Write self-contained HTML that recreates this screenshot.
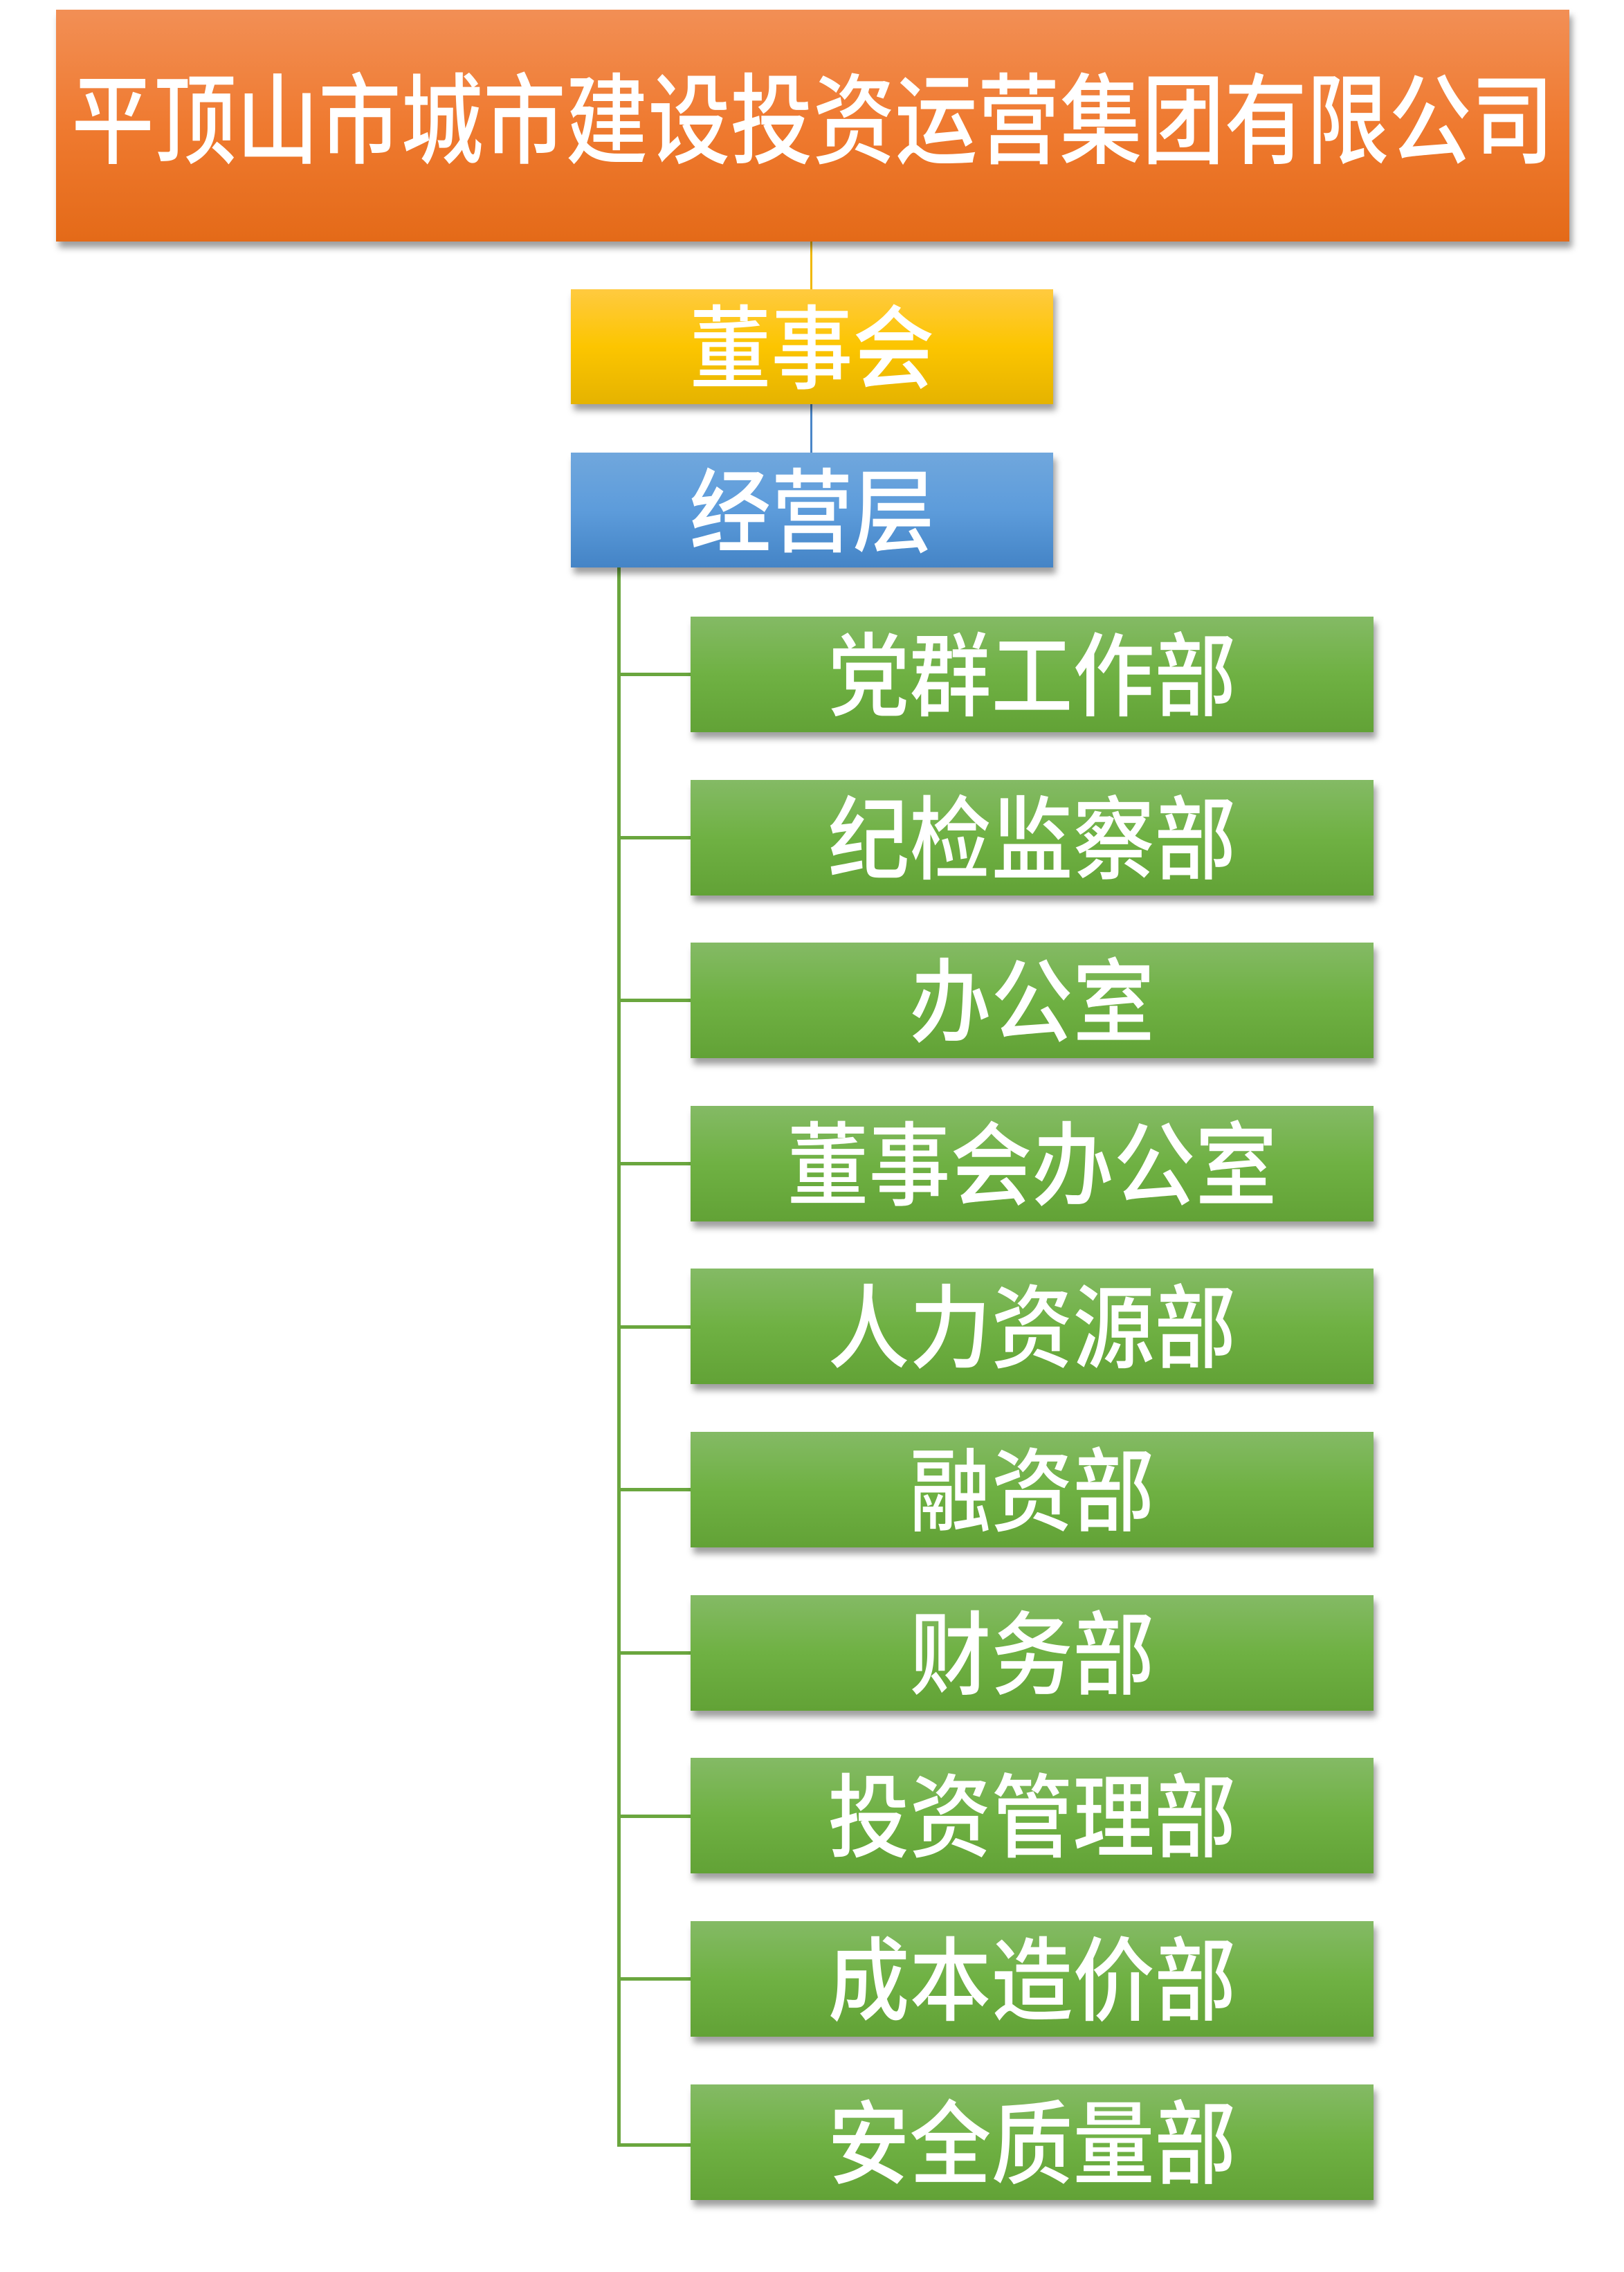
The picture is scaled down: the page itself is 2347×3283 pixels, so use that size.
<!DOCTYPE html>
<html><head><meta charset="utf-8"><style>
html,body{margin:0;padding:0;background:#fff;}
body{width:2347px;height:3283px;position:relative;overflow:hidden;font-family:"Liberation Sans","Noto Sans CJK SC",sans-serif;}
.b{position:absolute;display:flex;align-items:center;justify-content:center;color:#fff;box-shadow:4px 9px 9px rgba(0,0,0,.38);font-weight:500;white-space:nowrap;}
.b span{display:inline-block;transform:translateY(-8px) scaleY(1.12);}
.top{left:81px;top:14px;width:2187px;height:335px;background:linear-gradient(#f28f55,#ef7a30 50%,#e46a18);font-size:119px;}
.top span{transform:translateY(-18px) scaleY(1.2);}
.y{left:825px;top:418px;width:697px;height:166px;background:linear-gradient(#ffca40,#fcc500 50%,#e5b300);font-size:118px;}
.bl{left:825px;top:654px;width:697px;height:166px;background:linear-gradient(#70a7dd,#5d9cdb 50%,#4484c6);font-size:118px;}
.g{left:998px;width:987px;height:167px;background:linear-gradient(#84ba65,#6fb143 50%,#62a236);font-size:118px;}
.l{position:absolute;}
</style></head><body>
<div class="l" style="left:1171px;top:349px;width:3px;height:69px;background:#f0b800"></div>
<div class="l" style="left:1171px;top:584px;width:3px;height:70px;background:#4a86c8"></div>
<div class="l" style="left:892px;top:820px;width:5px;height:2282px;background:#6aa63e"></div>
<div class="b top"><span>平顶山市城市建设投资运营集团有限公司</span></div>
<div class="b y"><span>董事会</span></div>
<div class="b bl"><span>经营层</span></div>

<div class="l" style="left:892px;top:972px;width:106px;height:5px;background:#6aa63e"></div>
<div class="l" style="left:892px;top:1208px;width:106px;height:5px;background:#6aa63e"></div>
<div class="l" style="left:892px;top:1443px;width:106px;height:5px;background:#6aa63e"></div>
<div class="l" style="left:892px;top:1679px;width:106px;height:5px;background:#6aa63e"></div>
<div class="l" style="left:892px;top:1915px;width:106px;height:5px;background:#6aa63e"></div>
<div class="l" style="left:892px;top:2150px;width:106px;height:5px;background:#6aa63e"></div>
<div class="l" style="left:892px;top:2386px;width:106px;height:5px;background:#6aa63e"></div>
<div class="l" style="left:892px;top:2622px;width:106px;height:5px;background:#6aa63e"></div>
<div class="l" style="left:892px;top:2857px;width:106px;height:5px;background:#6aa63e"></div>
<div class="l" style="left:892px;top:3097px;width:106px;height:5px;background:#6aa63e"></div>

<div class="b g" style="top:891px"><span>党群工作部</span></div>
<div class="b g" style="top:1127px"><span>纪检监察部</span></div>
<div class="b g" style="top:1362px"><span>办公室</span></div>
<div class="b g" style="top:1598px"><span>董事会办公室</span></div>
<div class="b g" style="top:1833px"><span>人力资源部</span></div>
<div class="b g" style="top:2069px"><span>融资部</span></div>
<div class="b g" style="top:2305px"><span>财务部</span></div>
<div class="b g" style="top:2540px"><span>投资管理部</span></div>
<div class="b g" style="top:2776px"><span>成本造价部</span></div>
<div class="b g" style="top:3012px"><span>安全质量部</span></div>
</body></html>
